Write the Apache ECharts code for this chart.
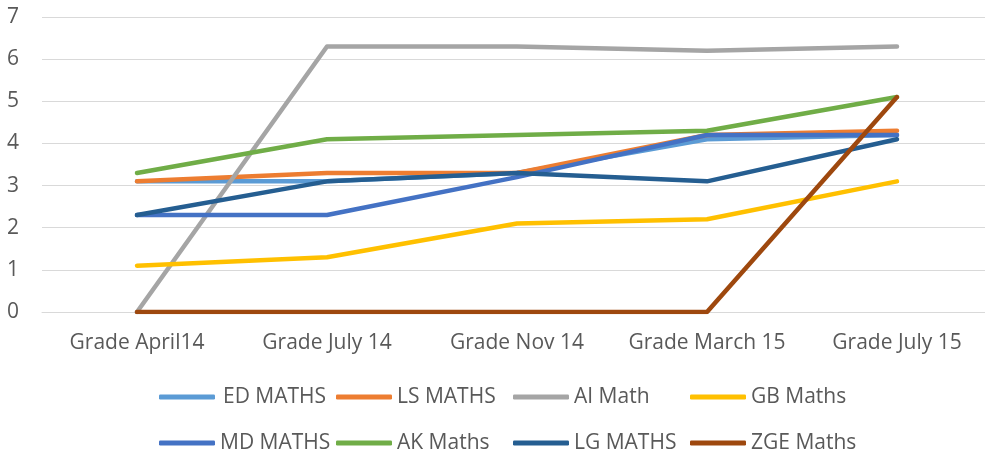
<!DOCTYPE html>
<html><head><meta charset="utf-8">
<script src="https://cdn.jsdelivr.net/npm/echarts@6/dist/echarts.min.js"></script>
<style>html,body{margin:0;padding:0;background:#fff}#c{width:985px;height:456px}</style>
</head><body><div id="c"></div>
<script>
const categories = ['Grade April14','Grade July 14','Grade Nov 14','Grade March 15','Grade July 15'];
const yTicks = [0,1,2,3,4,5,6,7];
const seriesNames = ['ED MATHS','LS MATHS','AI Math','GB Maths','MD MATHS','AK Maths','LG MATHS','ZGE Maths'];
const edMaths  = [3.1, 3.1, 3.3, 4.1, 4.2];
const lsMaths  = [3.1, 3.3, 3.3, 4.2, 4.3];
const aiMath   = [0, 6.3, 6.3, 6.2, 6.3];
const gbMaths  = [1.1, 1.3, 2.1, 2.2, 3.1];
const mdMaths  = [2.3, 2.3, 3.2, 4.2, 4.2];
const akMaths  = [3.3, 4.1, 4.2, 4.3, 5.1];
const lgMaths  = [2.3, 3.1, 3.3, 3.1, 4.1];
const zgeMaths = [0, 0, 0, 0, 5.1];
const seriesValues = [edMaths, lsMaths, aiMath, gbMaths, mdMaths, akMaths, lgMaths, zgeMaths];
const colors = ['#5B9BD5','#ED7D31','#A5A5A5','#FFC000','#4472C4','#70AD47','#255E91','#9E480E'];

const FONT = '"Open Sans", sans-serif';
const legendLeft = [159, 336, 513, 690];
const legendTop = [385, 431];
const legends = seriesNames.map((n, i) => ({
  data: [n],
  left: legendLeft[i % 4],
  top: legendTop[Math.floor(i / 4)],
  padding: 0,
  icon: 'roundRect',
  itemWidth: 56,
  itemHeight: 5,
  itemGap: 0,
  textStyle: {color: '#595959', fontSize: 21, fontFamily: FONT, lineHeight: 24,
    padding: i === 0 ? [0,0,0,3] : 0}
}));

const chart = echarts.init(document.getElementById('c'), null, {renderer: 'canvas'});
chart.setOption({
  animation: false,
  color: colors,
  legend: legends,
  grid: {left: 42, top: 17, width: 950, height: 295, containLabel: false, outerBoundsMode: 'none'},
  xAxis: {
    type: 'category', data: categories, boundaryGap: true,
    axisLine: {show: true, lineStyle: {color: '#D9D9D9', width: 1}},
    axisTick: {show: false},
    axisLabel: {color: '#595959', fontSize: 21, fontFamily: FONT, margin: 21, interval: 0, hideOverlap: false}
  },
  yAxis: {
    type: 'value', min: 0, max: 7, interval: 1,
    axisLine: {show: false}, axisTick: {show: false},
    splitLine: {lineStyle: {color: '#D9D9D9', width: 1}},
    axisLabel: {color: '#595959', fontSize: 21, fontFamily: FONT, margin: 23,
      formatter: v => yTicks.includes(v) ? String(v) : ''}
  },
  series: seriesNames.map((n, i) => ({
    name: n, type: 'line', data: seriesValues[i],
    symbol: 'none', lineStyle: {width: 4.5, color: colors[i], cap: 'round', join: 'round'},
    itemStyle: {color: colors[i]}
  }))
});
</script></body></html>
